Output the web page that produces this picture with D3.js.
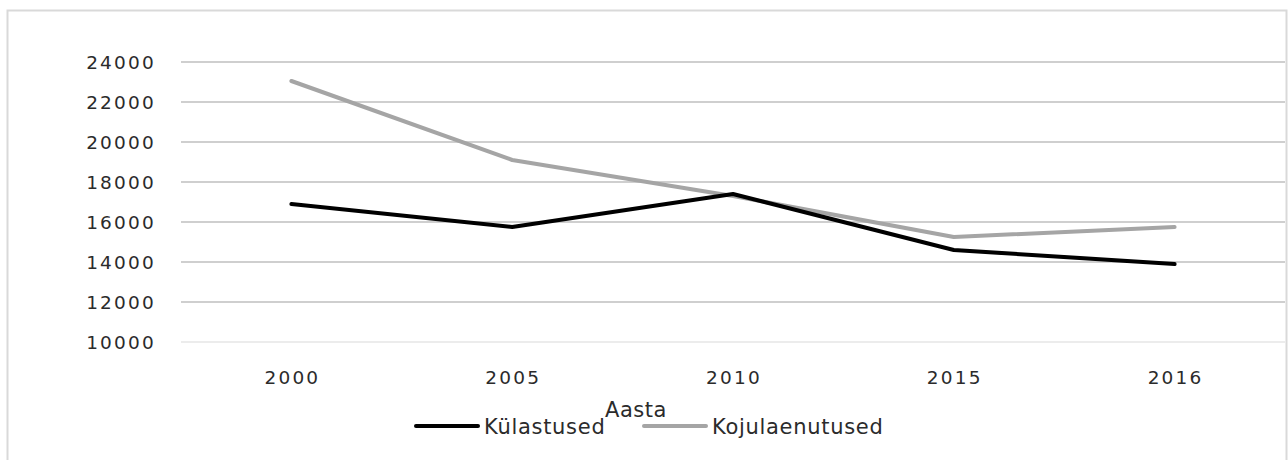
<!DOCTYPE html>
<html>
<head>
<meta charset="utf-8">
<script src="https://cdnjs.cloudflare.com/ajax/libs/d3/7.8.5/d3.min.js"></script>
<style>
  body { margin: 0; background: #fff; }
  text { font-family: "DejaVu Sans", sans-serif; fill: #2b2b2b; }
</style>
</head>
<body>
<div id="chart"></div>
<script>
var years = ["2000", "2005", "2010", "2015", "2016"];
var kylastused = [16900, 15750, 17400, 14600, 13900];
var kojulaenutused = [23050, 19100, 17300, 15250, 15750];
var yTicks = [10000, 12000, 14000, 16000, 18000, 20000, 22000, 24000];

var width = 1288,
    height = 460;

var svg = d3.select("#chart").append("svg")
    .attr("width", width)
    .attr("height", height);

// chart border
svg.append("rect")
    .attr("x", 7.5).attr("y", 10.5)
    .attr("width", 1279).attr("height", 460)
    .attr("fill", "none")
    .attr("stroke", "#d9d9d9")
    .attr("stroke-width", 2);

var x = d3.scaleBand()
    .domain(years)
    .range([181, 1285]);

var y = d3.scaleLinear()
    .domain([10000, 24000])
    .range([342, 62]);

// gridlines
svg.selectAll(".grid")
    .data(yTicks)
    .enter().append("line")
    .attr("class", "grid")
    .attr("x1", 181).attr("x2", 1285)
    .attr("y1", function(d) { return y(d); })
    .attr("y2", function(d) { return y(d); })
    .attr("stroke", function(d) { return d === 10000 ? "#d9d9d9" : "#cfcfcf"; })
    .attr("stroke-width", function(d) { return d === 10000 ? 1 : 2; });

// y labels
svg.selectAll(".ylab")
    .data(yTicks)
    .enter().append("text")
    .attr("class", "ylab")
    .attr("x", 156)
    .attr("y", function(d) { return y(d) + 7; })
    .attr("text-anchor", "end")
    .style("font-size", "18.5px")
    .style("letter-spacing", "2.2px")
    .text(function(d) { return d; });

// x labels
svg.selectAll(".xlab")
    .data(years)
    .enter().append("text")
    .attr("class", "xlab")
    .attr("x", function(d) { return x(d) + x.bandwidth() / 2 + 1; })
    .attr("y", 384)
    .attr("text-anchor", "middle")
    .style("font-size", "18.5px")
    .style("letter-spacing", "2.2px")
    .text(function(d) { return d; });

var line = d3.line()
    .x(function(d, i) { return x(years[i]) + x.bandwidth() / 2; })
    .y(function(d) { return y(d); });

svg.append("path")
    .datum(kojulaenutused)
    .attr("d", line)
    .attr("fill", "none")
    .attr("stroke", "#a5a5a5")
    .attr("stroke-width", 4)
    .attr("stroke-linecap", "round")
    .attr("stroke-linejoin", "round");

svg.append("path")
    .datum(kylastused)
    .attr("d", line)
    .attr("fill", "none")
    .attr("stroke", "#000")
    .attr("stroke-width", 4)
    .attr("stroke-linecap", "round")
    .attr("stroke-linejoin", "round");

// axis title
svg.append("text")
    .attr("x", 636)
    .attr("y", 417)
    .attr("text-anchor", "middle")
    .style("font-size", "21px")
    .style("letter-spacing", "0.5px")
    .text("Aasta");

// legend
var legend = svg.selectAll(".legend")
    .data([
        { name: "Külastused", color: "#000", x: 416 },
        { name: "Kojulaenutused", color: "#a5a5a5", x: 644 }
    ])
    .enter().append("g")
    .attr("class", "legend")
    .attr("transform", function(d) { return "translate(" + d.x + ",426)"; });

legend.append("line")
    .attr("x1", 0).attr("x2", 62)
    .attr("stroke", function(d) { return d.color; })
    .attr("stroke-width", 4)
    .attr("stroke-linecap", "round");

legend.append("text")
    .attr("x", 68)
    .attr("y", 8)
    .style("font-size", "21px")
    .style("letter-spacing", "0.7px")
    .text(function(d) { return d.name; });
</script>
</body>
</html>
